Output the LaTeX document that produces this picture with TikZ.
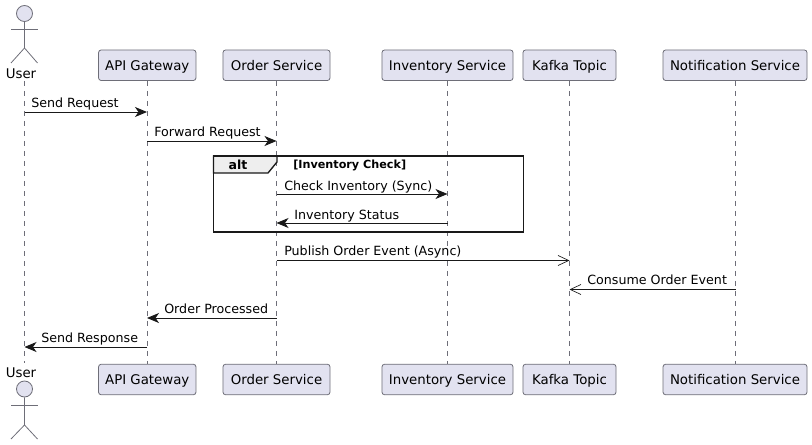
\documentclass[tikz,border=0pt]{standalone}
\usepackage{fontspec}
\setmainfont{DejaVu Sans}
\usetikzlibrary{arrows.meta}

\definecolor{part_fill}{HTML}{E2E2F0}
\definecolor{part_line}{HTML}{6E6E78}
\definecolor{tab_fill}{HTML}{EEEEEE}

\begin{document}
\begin{tikzpicture}[x=0.75pt,y=-0.75pt,
    part_box/.style={draw=part_line,fill=part_fill,rounded corners=2pt,line width=0.6pt,minimum height=22.9pt,inner sep=0pt,text height=8.6pt,text depth=1.2pt,font=\fontsize{10}{12}\selectfont},
    actor_head/.style={circle,draw=part_line,fill=part_fill,line width=0.6pt,minimum size=12pt,inner sep=0pt},
    actor_line/.style={draw=part_line,line width=0.6pt},
    actor_name/.style={inner sep=0pt,font=\fontsize{10}{12}\selectfont},
    life_line/.style={draw=part_line,line width=0.6pt,dash pattern=on 3.75pt off 3.75pt},
    sync_msg/.style={draw=black!90,line width=0.7pt,-{Stealth[length=9pt,width=7.5pt,inset=2.6pt]}},
    async_msg/.style={draw=black!90,line width=0.7pt,-{Straight Barb[length=8pt,width=7.5pt,line width=0.5pt]}},
    msg_label/.style={anchor=base west,inner sep=0pt,font=\fontsize{9.5}{11}\selectfont},
]
    \useasboundingbox (0,0) rectangle (812,445);

    % top row
    \node[actor_head] (user_head) at (24.5,13.5) {};
    \node[actor_name] (user_top) at (21,73.5) {User};
    \node[part_box,minimum width=73.1pt] (api_top) at (147.25,65.25) {API Gateway};
    \node[part_box,minimum width=80.3pt] (order_top) at (276.5,65.25) {Order Service};
    \node[part_box,minimum width=98.3pt] (inv_top) at (447.5,65.25) {Inventory Service};
    \node[part_box,minimum width=69.8pt] (kafka_top) at (569.5,65.25) {Kafka Topic};
    \node[part_box,minimum width=108pt] (notif_top) at (735,65.25) {Notification Service};

    % bottom row
    \node[actor_name] (user_bot) at (21,372.5) {User};
    \node[actor_head] (user_foot) at (24.5,389) {};
    \node[part_box,minimum width=73.1pt] (api_bot) at (147.25,379.5) {API Gateway};
    \node[part_box,minimum width=80.3pt] (order_bot) at (276.5,379.5) {Order Service};
    \node[part_box,minimum width=98.3pt] (inv_bot) at (447.5,379.5) {Inventory Service};
    \node[part_box,minimum width=69.8pt] (kafka_bot) at (569.5,379.5) {Kafka Topic};
    \node[part_box,minimum width=108pt] (notif_bot) at (735,379.5) {Notification Service};

    % the two actors
    \draw[actor_line] (user_head) -- (24.5,48) -- (11,63);
    \draw[actor_line] (24.5,48) -- (37.5,63);
    \draw[actor_line] (11,29) -- (37.5,29);
    \draw[actor_line] (user_foot) -- (24.5,425) -- (11,439);
    \draw[actor_line] (24.5,425) -- (37.5,439);
    \draw[actor_line] (11,405) -- (37.5,405);

    % lifelines
    \coordinate (user_a) at (24.5,81);
    \coordinate (user_b) at (24.5,363);
    \draw[life_line] (user_a) -- (user_b);
    \draw[life_line] (api_top) -- (api_bot);
    \draw[life_line] (order_top) -- (order_bot);
    \draw[life_line] (inv_top) -- (inv_bot);
    \draw[life_line] (kafka_top) -- (kafka_bot);
    \draw[life_line] (notif_top) -- (notif_bot);

    % alt frame
    \draw[fill=tab_fill,draw=black!90,line width=1pt] (213.5,156) -- (277,156) -- (277,162) -- (268,173) -- (213.5,173) -- cycle;
    \draw[draw=black!90,line width=1.1pt] (213.5,156) rectangle (523.5,232);
    \node[inner sep=0pt,anchor=base,font=\fontsize{9.4}{11}\bfseries\selectfont] (alt_name) at (238,170) {alt};
    \node[inner sep=0pt,anchor=base west,font=\fontsize{8.4}{9}\bfseries\selectfont] (alt_guard) at (293,169) {[Inventory Check]};

    % message ends
    \coordinate (m1a) at (24.5,112);
    \coordinate (m1b) at (147,112);
    \coordinate (m2a) at (147,141);
    \coordinate (m2b) at (276.5,141);
    \coordinate (m3a) at (276.5,194);
    \coordinate (m3b) at (447.5,194);
    \coordinate (m4a) at (447.5,223);
    \coordinate (m4b) at (276.5,223);
    \coordinate (m5a) at (276.5,260.5);
    \coordinate (m5b) at (569.5,260.5);
    \coordinate (m6a) at (735.5,289.5);
    \coordinate (m6b) at (569.5,289.5);
    \coordinate (m7a) at (276.5,318);
    \coordinate (m7b) at (147,318);
    \coordinate (m8a) at (147,347);
    \coordinate (m8b) at (24.5,347);

    \draw[sync_msg] (m1a) -- (m1b);
    \draw[sync_msg] (m2a) -- (m2b);
    \draw[sync_msg] (m3a) -- (m3b);
    \draw[sync_msg] (m4a) -- (m4b);
    \draw[async_msg] (m5a) -- (m5b);
    \draw[async_msg] (m6a) -- (m6b);
    \draw[sync_msg] (m7a) -- (m7b);
    \draw[sync_msg] (m8a) -- (m8b);

    \node[msg_label] (t1) at (31,107.5) {Send Request};
    \node[msg_label] (t2) at (154,136.5) {Forward Request};
    \node[msg_label] (t3) at (284,190.5) {Check Inventory (Sync)};
    \node[msg_label] (t4) at (294,219.5) {Inventory Status};
    \node[msg_label] (t5) at (284,255) {Publish Order Event (Async)};
    \node[msg_label] (t6) at (587,284.5) {Consume Order Event};
    \node[msg_label] (t7) at (164,313) {Order Processed};
    \node[msg_label] (t8) at (41,342.5) {Send Response};
\end{tikzpicture}
\end{document}
